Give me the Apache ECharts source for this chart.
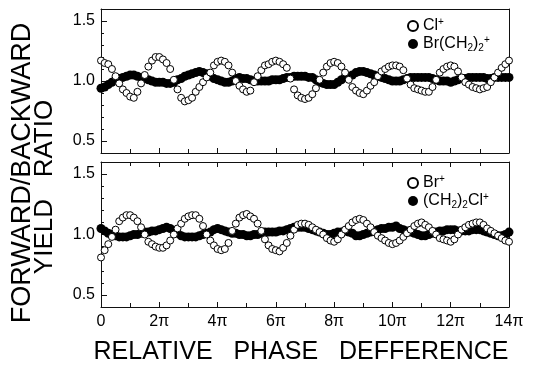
<!DOCTYPE html>
<html><head><meta charset="utf-8">
<script src="https://cdn.jsdelivr.net/npm/echarts@6/dist/echarts.min.js"></script>
<style>html,body{margin:0;padding:0;background:#fff}#c{width:537px;height:366px}</style>
</head><body><div id="c"></div>
<script>
// relative phase in units of pi
const phase = [
 0,0.125,0.25,0.375,0.5,0.625,0.75,0.875,
 1,1.125,1.25,1.375,1.5,1.625,1.75,1.875,
 2,2.125,2.25,2.375,2.5,2.625,2.75,2.875,
 3,3.125,3.25,3.375,3.5,3.625,3.75,3.875,
 4,4.125,4.25,4.375,4.5,4.625,4.75,4.875,
 5,5.125,5.25,5.375,5.5,5.625,5.75,5.875,
 6,6.125,6.25,6.375,6.5,6.625,6.75,6.875,
 7,7.125,7.25,7.375,7.5,7.625,7.75,7.875,
 8,8.125,8.25,8.375,8.5,8.625,8.75,8.875,
 9,9.125,9.25,9.375,9.5,9.625,9.75,9.875,
 10,10.125,10.25,10.375,10.5,10.625,10.75,10.875,
 11,11.125,11.25,11.375,11.5,11.625,11.75,11.875,
 12,12.125,12.25,12.375,12.5,12.625,12.75,12.875,
 13,13.125,13.25,13.375,13.5,13.625,13.75,13.875,
 14];
const clPlus = [
 1.17,1.15,1.14,1.10,1.04,0.98,0.93,0.90,
 0.87,0.86,0.91,0.98,1.05,1.12,1.17,1.20,
 1.20,1.18,1.15,1.10,1.01,0.93,0.86,0.83,
 0.84,0.86,0.91,0.95,0.99,1.03,1.07,1.13,
 1.16,1.17,1.16,1.13,1.07,1.00,0.96,0.93,
 0.91,0.92,0.99,1.04,1.09,1.13,1.14,1.16,
 1.17,1.16,1.14,1.11,1.02,0.93,0.88,0.86,
 0.85,0.86,0.89,0.94,1.01,1.07,1.12,1.15,
 1.16,1.15,1.12,1.07,1.01,0.95,0.92,0.90,
 0.89,0.92,0.96,0.99,1.04,1.08,1.10,1.12,
 1.13,1.13,1.12,1.09,1.02,0.97,0.94,0.93,
 0.92,0.91,0.91,0.95,1.01,1.07,1.10,1.12,
 1.13,1.12,1.08,1.03,0.99,0.97,0.95,0.94,
 0.93,0.94,0.95,0.99,1.03,1.07,1.11,1.14,
 1.17];
const brCH2Plus = [
 0.94,0.95,0.97,0.99,1.01,1.02,1.03,1.04,
 1.05,1.05,1.04,1.03,1.02,1.01,1.00,0.99,
 0.99,0.99,0.98,0.98,0.99,1.01,1.02,1.04,
 1.05,1.06,1.07,1.08,1.07,1.06,1.04,1.02,
 1.01,1.00,0.99,0.99,1.00,1.02,1.03,1.02,
 1.02,1.01,1.00,1.00,1.00,1.00,1.00,1.01,
 1.01,1.01,1.02,1.03,1.03,1.04,1.04,1.04,
 1.04,1.03,1.03,1.01,0.99,0.98,0.97,0.97,
 0.97,0.99,1.01,1.03,1.04,1.05,1.07,1.08,
 1.08,1.07,1.06,1.05,1.04,1.03,1.02,1.01,
 1.00,1.00,1.00,1.01,1.02,1.03,1.03,1.03,
 1.03,1.03,1.03,1.02,1.01,1.00,1.00,1.00,
 0.99,1.00,1.01,1.02,1.02,1.03,1.03,1.03,
 1.03,1.03,1.02,1.02,1.03,1.03,1.03,1.03,
 1.03];
const brPlus = [
 0.81,0.87,0.92,0.98,1.04,1.11,1.14,1.16,
 1.16,1.14,1.11,1.06,1.00,0.94,0.92,0.90,
 0.89,0.89,0.91,0.95,1.00,1.05,1.09,1.13,
 1.15,1.16,1.16,1.13,1.07,1.00,0.95,0.91,
 0.88,0.87,0.88,0.93,1.03,1.09,1.14,1.16,
 1.17,1.15,1.13,1.09,1.03,0.96,0.91,0.88,
 0.87,0.86,0.89,0.93,0.99,1.04,1.08,1.09,
 1.09,1.08,1.06,1.04,1.02,1.00,0.97,0.95,
 0.94,0.96,1.00,1.04,1.07,1.10,1.12,1.13,
 1.12,1.09,1.06,1.02,0.99,0.97,0.95,0.93,
 0.92,0.93,0.95,0.98,1.01,1.04,1.07,1.09,
 1.10,1.08,1.06,1.03,1.00,0.97,0.96,0.95,
 0.94,0.96,1.00,1.04,1.06,1.08,1.09,1.10,
 1.10,1.08,1.05,1.03,1.01,0.99,0.97,0.95,
 0.94];
const ch2ClPlus = [
 1.05,1.03,1.01,1.00,0.99,0.98,0.98,0.98,
 0.99,1.00,1.00,1.01,1.02,1.02,1.03,1.03,
 1.04,1.05,1.06,1.05,1.03,1.01,0.99,0.98,
 0.98,0.98,0.98,0.99,1.00,1.01,1.02,1.04,
 1.05,1.04,1.03,1.02,1.01,1.01,1.00,1.00,
 0.99,0.99,1.00,1.00,1.01,1.02,1.02,1.02,
 1.02,1.03,1.03,1.04,1.05,1.06,1.06,1.06,
 1.06,1.05,1.04,1.03,1.02,1.01,1.00,1.00,
 1.01,1.02,1.02,1.03,1.02,1.01,0.99,0.99,
 1.00,1.01,1.02,1.03,1.04,1.05,1.05,1.06,
 1.06,1.07,1.05,1.04,1.03,1.02,1.01,1.00,
 0.99,0.99,1.00,1.01,1.02,1.03,1.03,1.04,
 1.04,1.04,1.03,1.03,1.03,1.03,1.04,1.04,
 1.04,1.03,1.02,1.01,1.00,0.99,0.99,1.00,
 1.02];
const xTickLabels = ['0','2\u03c0','4\u03c0','6\u03c0','8\u03c0','10\u03c0','12\u03c0','14\u03c0'];
const yTickValues = [0.5, 1.0, 1.5];
const seriesNames = ['Cl+','Br(CH2)2+','Br+','(CH2)2Cl+'];
const legendRich = {
 'Cl+': '{n|Cl}{sup|+}',
 'Br(CH2)2+': '{n|Br(CH}{sub|2}{n|)}{sub|2}{sup|+}',
 'Br+': '{n|Br}{sup|+}',
 '(CH2)2Cl+': '{n|(CH}{sub|2}{n|)}{sub|2}{n|Cl}{sup|+}'
};

const FONT = 'Liberation Sans, Arial, Helvetica, sans-serif';
const AX = '#111';
const pair = arr => phase.map((x, i) => [x, arr[i]]);

function xAx(grid, pos, labels, ticks) {
  return {
    type: 'value', gridIndex: grid, position: pos, min: 0, max: 14, interval: 2,
    axisLine: {show: true, onZero: false, lineStyle: {color: AX, width: 1}},
    axisTick: {show: ticks, inside: true, length: 5, lineStyle: {color: AX}},
    minorTick: {show: ticks, splitNumber: 2, length: 4, lineStyle: {color: AX}},
    axisLabel: {show: labels, margin: 7, fontSize: 16, fontFamily: FONT, color: '#000',
      formatter: v => xTickLabels[Math.round(v / 2)]},
    splitLine: {show: false}, minorSplitLine: {show: false}
  };
}
function yAxes(grid) {
  return [
    {type: 'value', gridIndex: grid, position: 'left', min: 0.4, max: 1.6, interval: 0.1,
     axisLine: {show: true, onZero: false, lineStyle: {color: AX, width: 1}},
     axisTick: {show: true, inside: true, length: 3, lineStyle: {color: AX}},
     axisLabel: {show: true, customValues: yTickValues, margin: 6, fontSize: 16, fontFamily: FONT, color: '#000',
       formatter: v => v.toFixed(1)},
     splitLine: {show: false}},
    {type: 'value', gridIndex: grid, position: 'left', min: 0.4, max: 1.6,
     axisLine: {show: false, onZero: false},
     axisTick: {show: true, inside: true, length: 6, customValues: yTickValues, lineStyle: {color: AX}},
     axisLabel: {show: false}, splitLine: {show: false}},
    {type: 'value', gridIndex: grid, position: 'right', min: 0.4, max: 1.6,
     axisLine: {show: true, onZero: false, lineStyle: {color: AX, width: 1}},
     axisTick: {show: false}, axisLabel: {show: false}, splitLine: {show: false}}
  ];
}
const openStyle = {color: '#fff', borderColor: '#000', borderWidth: 1, opacity: 1};
const fillStyle = {color: '#000', borderWidth: 0, opacity: 1};
const richStyles = {
  n: {fontSize: 16, fontFamily: FONT, color: '#000', lineHeight: 18},
  sup: {fontSize: 10, fontFamily: FONT, color: '#000', lineHeight: 10, verticalAlign: 'top'},
  sub: {fontSize: 10, fontFamily: FONT, color: '#000', lineHeight: 10, verticalAlign: 'bottom'}
};
function legend(names, top) {
  return {
    data: names, orient: 'vertical', left: 407, top: top, icon: 'circle',
    itemWidth: 10, itemHeight: 10, itemGap: 1, padding: 0,
    formatter: n => legendRich[n],
    textStyle: {rich: richStyles, padding: [0, 0, 0, 0]},
    selectedMode: false
  };
}

const chart = echarts.init(document.getElementById('c'), null, {renderer: 'canvas'});
chart.setOption({
  animation: false,
  backgroundColor: '#fff',
  grid: [
    {left: 101, right: 28, top: 9, height: 144},
    {left: 101, right: 28, top: 162, height: 145}
  ],
  xAxis: [xAx(0, 'bottom', false, true), xAx(0, 'top', false, false),
          xAx(1, 'bottom', true, true), xAx(1, 'top', false, true)],
  yAxis: [...yAxes(0), ...yAxes(1)],
  legend: [legend([seriesNames[0], seriesNames[1]], 17), legend([seriesNames[2], seriesNames[3]], 174)],
  series: [
    {name: seriesNames[1], type: 'scatter', xAxisIndex: 0, yAxisIndex: 0, symbol: 'circle', symbolSize: 9,
     itemStyle: fillStyle, data: pair(brCH2Plus), z: 2},
    {name: seriesNames[0], type: 'scatter', xAxisIndex: 0, yAxisIndex: 0, symbol: 'circle', symbolSize: 7,
     itemStyle: openStyle, data: pair(clPlus), z: 3},
    {name: seriesNames[3], type: 'scatter', xAxisIndex: 2, yAxisIndex: 3, symbol: 'circle', symbolSize: 9,
     itemStyle: fillStyle, data: pair(ch2ClPlus), z: 2},
    {name: seriesNames[2], type: 'scatter', xAxisIndex: 2, yAxisIndex: 3, symbol: 'circle', symbolSize: 7,
     itemStyle: openStyle, data: pair(brPlus), z: 3}
  ],
  graphic: [
    {type: 'text', x: 23, y: 173, rotation: Math.PI / 2,
     style: {text: 'FORWARD/BACKWARD', fontSize: 27, fontFamily: FONT, fill: '#000', align: 'center', verticalAlign: 'middle'}},
    {type: 'text', x: 45, y: 187, rotation: Math.PI / 2,
     style: {text: 'YIELD   RATIO', fontSize: 26, fontFamily: FONT, fill: '#000', align: 'center', verticalAlign: 'middle'}},
    {type: 'text', x: 301, y: 352,
     style: {text: 'RELATIVE   PHASE   DEFFERENCE', fontSize: 25, fontFamily: FONT, fill: '#000', align: 'center', verticalAlign: 'middle'}}
  ]
});
</script></body></html>
